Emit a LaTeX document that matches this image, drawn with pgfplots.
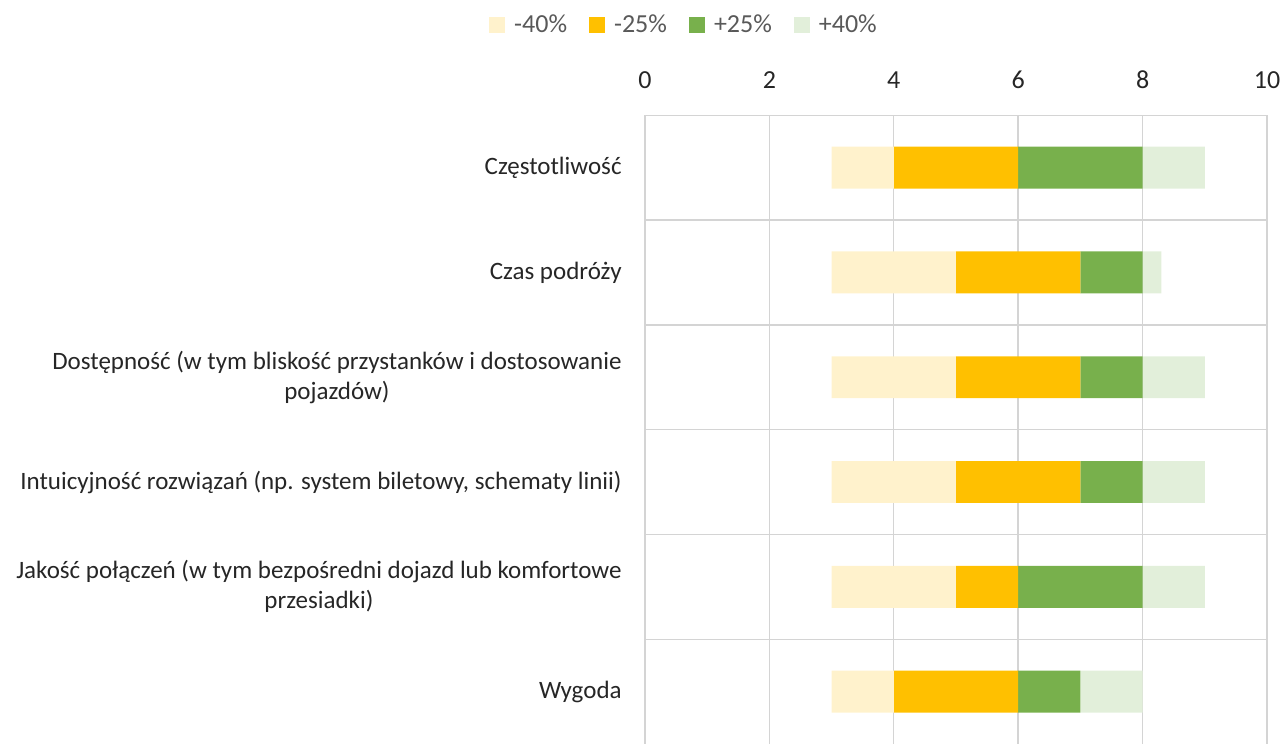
\documentclass[border=0pt]{standalone}
\usepackage{fontspec}
\setmainfont{Carlito}
\usepackage{pgfplots}
\usepackage{pgfplotstable}
\pgfplotsset{compat=1.18}
\definecolor{lowA}{HTML}{FFF2CC}
\definecolor{lowB}{HTML}{FFC000}
\definecolor{highB}{HTML}{78B04C}
\definecolor{highA}{HTML}{E2EFDA}
\definecolor{gridc}{HTML}{D4D4D4}
\definecolor{ticktxt}{HTML}{262626}
\definecolor{legtxt}{HTML}{595959}

% y: 0 = top row; base = invisible start; m40, m25, p25, p40 = segment lengths
\pgfplotstableread{
y base m40 m25 p25 p40
0 3 1 2 2 1
1 3 2 2 1 0.3
2 3 2 2 1 1
3 3 2 2 1 1
4 3 2 1 2 1
5 3 1 2 1 1
}\ranges

\begin{document}
\begin{tikzpicture}[font=\fontsize{13}{15}\selectfont]
\begin{axis}[
  scale only axis, width=311pt, height=314.4pt,
  xbar stacked, bar width=0.4,
  xmin=0, xmax=10, ymin=-0.5, ymax=5.5, y dir=reverse,
  xtick={0,2,4,6,8,10}, xticklabel pos=right,
  ytick={0,1,2,3,4,5},
  minor ytick={-0.5,0.5,1.5,2.5,3.5,4.5},
  yticklabels={Częstotliwość,Czas podróży,{Dostępność (w tym bliskość przystanków i dostosowanie\\pojazdów)},Intuicyjność rozwiązań (np. system biletowy{,} schematy linii),{Jakość połączeń (w tym bezpośredni dojazd lub komfortowe\\przesiadki)},Wygoda},
  /pgf/number format/assume math mode=true,
  xmajorgrids, yminorgrids,
  grid style={gridc, line width=0.7pt},
  minor grid style={gridc, line width=0.7pt},
  axis line style={draw=none}, tick style={draw=none},
  xticklabel style={anchor=base, yshift=13.25pt, text=ticktxt},
  yticklabel style={align=center, anchor=east, inner sep=0pt, xshift=-11.5pt, text=ticktxt,
    font=\fontsize{12.5}{15}\selectfont},
  legend style={at={(axis description cs:0.0611,1.1434)}, anchor=center, draw=none,
    legend columns=4, text=legtxt, nodes={inner xsep=0pt},
    /tikz/every odd column/.append style={column sep=4.5pt},
    /tikz/every even column/.append style={column sep=11pt}},
  legend image code/.code={\fill[#1] (0pt,-4pt) rectangle (8pt,4pt);},
]
\addplot[draw=none, fill=none, forget plot] table[x=base, y=y] {\ranges};
\addplot[draw=none, fill=lowA] table[x=m40, y=y] {\ranges};
\addplot[draw=none, fill=lowB] table[x=m25, y=y] {\ranges};
\addplot[draw=none, fill=highB] table[x=p25, y=y] {\ranges};
\addplot[draw=none, fill=highA] table[x=p40, y=y] {\ranges};
\legend{-40\%,-25\%,+25\%,+40\%}
\end{axis}
\pgfresetboundingbox
\useasboundingbox (-322.5pt,0pt) rectangle (319.5pt,372pt);
\end{tikzpicture}
\end{document}
